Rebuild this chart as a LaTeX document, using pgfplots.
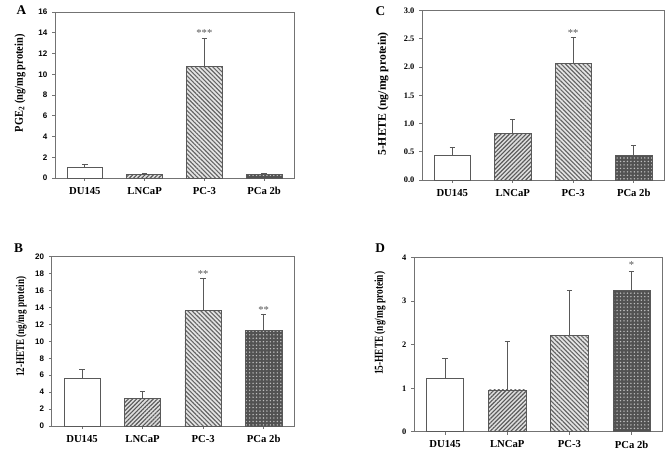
\documentclass[border=0pt]{standalone}
\usepackage{graphicx}
\usepackage{pgfplots}
\pgfplotsset{compat=1.18}
\usetikzlibrary{patterns,patterns.meta}
\usepackage{fontspec}
\setmainfont{Liberation Serif}
\newfontfamily\sansf{Liberation Sans}
\definecolor{axgray}{gray}{0.45}
\definecolor{ergray}{gray}{0.35}
\tikzset{star/.style={font=\fontsize{8}{8}\selectfont, text=ergray, inner sep=0pt}}
\pgfplotsset{
  panel/.style={scale only axis, anchor=south west, clip=false,
    xmin=-0.5, xmax=3.5, ymin=0,
    xtick={0,1,2,3}, xticklabels={DU145,LNCaP,PC-3,PCa 2b},
    tick pos=left, tick align=outside, major tick length=2.2pt,
    axis line style={axgray, line width=0.6pt},
    every tick/.style={axgray, line width=0.6pt},
    x tick label style={font=\bfseries\fontsize{8}{9}\selectfont, yshift=-1pt},
    /pgf/number format/assume math mode=true},
  bar/.style={ybar, bar width=0.6, bar shift=0pt, draw=ergray, line width=0.5pt,
    error bars/y dir=plus, error bars/y explicit,
    error bars/error bar style={ergray, line width=0.7pt, fill=none},
    error bars/error mark options={rotate=90, mark size=2pt, ergray, line width=0.7pt}},
  cDU/.style={fill=white},
  cLN/.style={fill=gray!25, postaction={pattern={Lines[angle=45,distance=2.2pt,line width=0.85pt]}, pattern color=gray!70!black}},
  cPC/.style={fill=gray!20, postaction={pattern={Lines[angle=-45,distance=2.3pt,line width=0.85pt]}, pattern color=gray!80!black}},
  cPA/.style={fill=black!68, postaction={pattern={Dots[distance=2.6pt,radius=0.6pt]}, pattern color=white!75!black}}
}
\begin{document}
\begin{tikzpicture}
\path (0,0) rectangle (501.75pt,339pt);
% Panel A
\begin{axis}[panel, at={(41.25pt,205.5pt)}, width=179.25pt, height=124.5pt,
  ymax=16, ytick={0,2,...,16},
  y tick label style={font=\sansf\bfseries\fontsize{6}{7}\selectfont},
  ylabel={\scalebox{1}[1.15]{PGE\textsubscript{2} (ng/mg protein)}},
  ylabel style={font=\bfseries\fontsize{7.8}{9}\selectfont, at={(axis description cs:-0.146,0.57)}, anchor=center}]
\addplot[bar, cDU] coordinates {(0,1.0) +- (0,0.3)};
\addplot[bar, cLN] coordinates {(1,0.35) +- (0,0.1)};
\addplot[bar, cPC] coordinates {(2,10.75) +- (0,2.7)};
\addplot[bar, cPA] coordinates {(3,0.38) +- (0,0.08)};
\node[star] at (axis cs:2,14.0) {***};
\end{axis}
% Panel C
\begin{axis}[panel, at={(316.5pt,204pt)}, width=181.5pt, height=127pt,
  ymax=3, ytick={0,0.5,...,3.0},
  /pgf/number format/fixed, /pgf/number format/fixed zerofill, /pgf/number format/precision=1,
  y tick label style={font=\bfseries\fontsize{6.3}{7}\selectfont},
  ylabel={5-HETE (ng/mg protein)},
  ylabel style={font=\bfseries\fontsize{8.8}{10}\selectfont, at={(axis description cs:-0.161,0.508)}, anchor=center}]
\addplot[bar, cDU] coordinates {(0,0.43) +- (0,0.15)};
\addplot[bar, cLN] coordinates {(1,0.82) +- (0,0.26)};
\addplot[bar, cPC] coordinates {(2,2.07) +- (0,0.46)};
\addplot[bar, cPA] coordinates {(3,0.43) +- (0,0.18)};
\node[star] at (axis cs:2,2.6) {**};
\end{axis}
% Panel B
\begin{axis}[panel, at={(38.8pt,19.5pt)}, width=181.7pt, height=127pt,
  ymax=20, ytick={0,2,...,20},
  y tick label style={font=\sansf\bfseries\fontsize{6}{7}\selectfont},
  ylabel={\scalebox{1}[1.3]{12-HETE (ng/mg protein)}},
  ylabel style={font=\bfseries\fontsize{6.8}{8}\selectfont, at={(axis description cs:-0.125,0.585)}, anchor=center}]
\addplot[bar, cDU] coordinates {(0,5.63) +- (0,1.06)};
\addplot[bar, cLN] coordinates {(1,3.27) +- (0,0.79)};
\addplot[bar, cPC] coordinates {(2,13.7) +- (0,3.74)};
\addplot[bar, cPA] coordinates {(3,11.26) +- (0,1.97)};
\node[star] at (axis cs:2,18.0) {**};
\node[star] at (axis cs:3,13.7) {**};
\end{axis}
% Panel D
\begin{axis}[panel, at={(310.5pt,15.2pt)}, width=186.5pt, height=130.5pt,
  ymax=4, ytick={0,1,...,4},
  y tick label style={font=\bfseries\fontsize{6.3}{7}\selectfont},
  ylabel={\scalebox{1}[1.3]{15-HETE (ng/mg protein)}},
  ylabel style={font=\bfseries\fontsize{7}{8}\selectfont, at={(axis description cs:-0.137,0.623)}, anchor=center}]
\addplot[bar, cDU] coordinates {(0,1.23) +- (0,0.46)};
\addplot[bar, cLN] coordinates {(1,0.96) +- (0,1.11)};
\addplot[bar, cPC] coordinates {(2,2.22) +- (0,1.02)};
\addplot[bar, cPA] coordinates {(3,3.24) +- (0,0.45)};
\node[star] at (axis cs:3,3.83) {*};
\end{axis}
\node[font=\bfseries\fontsize{10}{12}\selectfont] at (16pt,331.3pt) {A};
\node[font=\bfseries\fontsize{10}{12}\selectfont] at (285.4pt,331pt) {C};
\node[font=\bfseries\fontsize{10}{12}\selectfont] at (14pt,152.8pt) {B};
\node[font=\bfseries\fontsize{10}{12}\selectfont] at (285.2pt,153.2pt) {D};
\end{tikzpicture}
\end{document}
